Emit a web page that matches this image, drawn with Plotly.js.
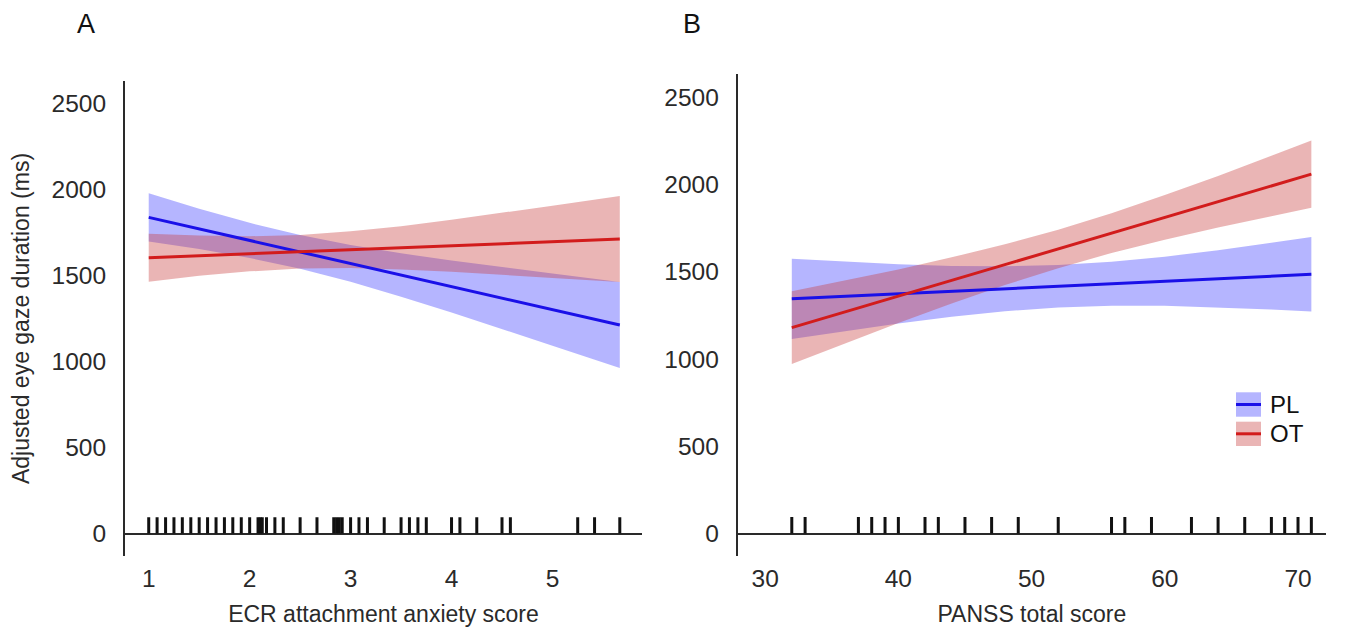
<!DOCTYPE html>
<html><head><meta charset="utf-8">
<script src="https://cdn.plot.ly/plotly-3.0.1.min.js"></script>
<style>html,body{margin:0;padding:0;background:#fff}#chart{width:1350px;height:629px}</style>
</head><body><div id="chart"></div>
<script>
// ---------- Panel A: ECR attachment anxiety ----------
const ecrX      = [1, 1.5, 2, 2.5, 3, 3.5, 4, 4.5, 5, 5.667];
const plA_lo    = [1698, 1654, 1602, 1539, 1463, 1377, 1285, 1190, 1092, 962];
const plA_hi    = [1978, 1888, 1806, 1735, 1677, 1629, 1587, 1548, 1512, 1462];
const otA_lo    = [1463, 1498, 1524, 1540, 1543, 1535, 1522, 1506, 1486, 1462];
const otA_hi    = [1743, 1732, 1728, 1736, 1757, 1787, 1824, 1864, 1906, 1962];
const ecrLineX  = [1, 5.667];
const plA_fit   = [1838, 1212];
const otA_fit   = [1603, 1712];
const ecrRug    = [1.0, 1.083, 1.167, 1.25, 1.333, 1.417, 1.5, 1.583, 1.667, 1.75, 1.833, 1.917, 2.0,
                   2.083, 2.104, 2.125, 2.167, 2.25, 2.333, 2.5, 2.667, 2.833, 2.861, 2.889, 2.917,
                   3.0, 3.083, 3.167, 3.333, 3.5, 3.583, 3.667, 3.75, 4.0, 4.083, 4.25, 4.5, 4.583,
                   5.25, 5.417, 5.667];
const ecrTicks  = [1, 2, 3, 4, 5];

// ---------- Panel B: PANSS total ----------
const panssX    = [32, 36, 40, 44, 48, 52, 56, 60, 64, 68, 71];
const plB_lo    = [1115, 1160, 1204, 1242, 1274, 1295, 1306, 1305, 1296, 1284, 1272];
const plB_hi    = [1575, 1558, 1544, 1534, 1532, 1539, 1558, 1587, 1624, 1666, 1700];
const otB_lo    = [972, 1090, 1206, 1319, 1424, 1521, 1608, 1684, 1754, 1819, 1867];
const otB_hi    = [1388, 1450, 1514, 1583, 1658, 1741, 1836, 1940, 2050, 2165, 2253];
const panssLineX = [32, 71];
const plB_fit   = [1345, 1486];
const otB_fit   = [1180, 2060];
const panssRug  = [32, 33, 37, 38, 39, 40, 42, 43, 45, 47, 49, 52, 56, 57, 59, 62, 64, 66, 68, 69, 70, 71];
const panssTicks = [30, 40, 50, 60, 70];

const yTicks    = [0, 500, 1000, 1500, 2000, 2500];
const groups    = ['PL', 'OT'];

// ---------- styles ----------
const BLUE = '#1a10e8', RED = '#d21c1c';
const BLUE_FILL = 'rgba(70,70,255,0.40)', RED_FILL = 'rgba(200,60,60,0.38)';
const RUG_H = 95;
const FONT = 'Liberation Sans, Arial, Helvetica, sans-serif';
const INK = '#2a2a2a';

function band(x, lo, hi, fill, xa, ya) {
  return [
    {x: x, y: lo, xaxis: xa, yaxis: ya, type: 'scatter', mode: 'lines', line: {width: 0}, hoverinfo: 'skip', showlegend: false},
    {x: x, y: hi, xaxis: xa, yaxis: ya, type: 'scatter', mode: 'lines', line: {width: 0}, fill: 'tonexty', fillcolor: fill, hoverinfo: 'skip', showlegend: false}
  ];
}
function fitLine(x, y, color, xa, ya, name) {
  return {x: x, y: y, xaxis: xa, yaxis: ya, type: 'scatter', mode: 'lines', name: name, line: {color: color, width: 3}, showlegend: false};
}
function rug(vals, xa, ya) {
  const xs = [], ys = [];
  vals.forEach(v => { xs.push(v, v, null); ys.push(0, RUG_H, null); });
  return {x: xs, y: ys, xaxis: xa, yaxis: ya, type: 'scatter', mode: 'lines', line: {color: '#111', width: 3}, hoverinfo: 'skip', showlegend: false};
}

const data = [
  ...band(ecrX, plA_lo, plA_hi, BLUE_FILL, 'x', 'y'),
  ...band(ecrX, otA_lo, otA_hi, RED_FILL, 'x', 'y'),
  fitLine(ecrLineX, plA_fit, BLUE, 'x', 'y', groups[0]),
  fitLine(ecrLineX, otA_fit, RED, 'x', 'y', groups[1]),
  rug(ecrRug, 'x', 'y'),
  ...band(panssX, plB_lo, plB_hi, BLUE_FILL, 'x2', 'y2'),
  ...band(panssX, otB_lo, otB_hi, RED_FILL, 'x2', 'y2'),
  fitLine(panssLineX, plB_fit, BLUE, 'x2', 'y2', groups[0]),
  fitLine(panssLineX, otB_fit, RED, 'x2', 'y2', groups[1]),
  rug(panssRug, 'x2', 'y2')
];

const W = 1350, H = 629;
const px = v => v / W, py = v => 1 - v / H;

const xCommon = {showgrid: false, zeroline: false, showline: false, ticks: '', tickfont: {size: 24.5, color: INK, family: FONT}, ticklabelstandoff: 6};
const yCommon = {showgrid: false, zeroline: true, zerolinecolor: INK, zerolinewidth: 2, showline: true, linecolor: INK, linewidth: 2,
                 ticks: '', tickvals: yTicks, tickfont: {size: 24.5, color: INK, family: FONT}, ticklabelstandoff: 12};

const layout = {
  width: W, height: H,
  margin: {l: 0, r: 0, t: 0, b: 0},
  paper_bgcolor: '#fff', plot_bgcolor: '#fff',
  showlegend: false,
  font: {family: FONT, color: INK},
  xaxis: Object.assign({}, xCommon, {domain: [px(125), px(642)], range: [0.765, 5.887], tickvals: ecrTicks, anchor: 'y',
          title: {text: 'ECR attachment anxiety score', font: {size: 23, color: INK, family: FONT}, standoff: 14}}),
  yaxis: Object.assign({}, yCommon, {domain: [py(555.6), py(81.4)], range: [-128.5, 2628.5], anchor: 'x',
          title: {text: 'Adjusted eye gaze duration (ms)', font: {size: 23, color: INK, family: FONT}, standoff: 16}}),
  xaxis2: Object.assign({}, xCommon, {domain: [px(737.7), px(1326)], range: [27.94, 72.1], tickvals: panssTicks, anchor: 'y2',
          title: {text: 'PANSS total score', font: {size: 23, color: INK, family: FONT}, standoff: 14}}),
  yaxis2: Object.assign({}, yCommon, {domain: [py(555.6), py(74)], range: [-126.7, 2634], anchor: 'x2'}),
  annotations: [
    {text: 'A', xref: 'paper', yref: 'paper', x: px(86), y: py(24), xanchor: 'center', yanchor: 'middle', showarrow: false, font: {size: 27, color: '#111', family: FONT}},
    {text: 'B', xref: 'paper', yref: 'paper', x: px(692), y: py(24), xanchor: 'center', yanchor: 'middle', showarrow: false, font: {size: 27, color: '#111', family: FONT}},
    {text: groups[0], xref: 'paper', yref: 'paper', x: px(1268), y: py(404.5), xanchor: 'left', yanchor: 'middle', showarrow: false, font: {size: 24, color: '#111', family: FONT}},
    {text: groups[1], xref: 'paper', yref: 'paper', x: px(1268), y: py(433.8), xanchor: 'left', yanchor: 'middle', showarrow: false, font: {size: 24, color: '#111', family: FONT}}
  ],
  shapes: [
    {type: 'rect', xref: 'paper', yref: 'paper', x0: px(1236), x1: px(1261), y0: py(392.3), y1: py(416.7), fillcolor: BLUE_FILL, line: {width: 0}},
    {type: 'line', xref: 'paper', yref: 'paper', x0: px(1236), x1: px(1261), y0: py(404.5), y1: py(404.5), line: {color: BLUE, width: 3}},
    {type: 'rect', xref: 'paper', yref: 'paper', x0: px(1236), x1: px(1261), y0: py(421.7), y1: py(446), fillcolor: RED_FILL, line: {width: 0}},
    {type: 'line', xref: 'paper', yref: 'paper', x0: px(1236), x1: px(1261), y0: py(433.8), y1: py(433.8), line: {color: RED, width: 3}}
  ]
};

Plotly.newPlot('chart', data, layout, {staticPlot: true, displayModeBar: false});
</script>
</body></html>
